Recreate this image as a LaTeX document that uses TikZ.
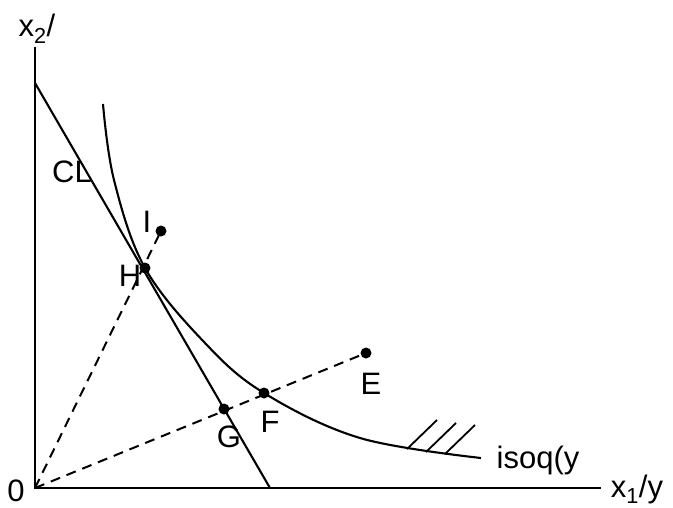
\documentclass[tikz,border=0pt]{standalone}
\usepackage{fontspec}
\setmainfont{Liberation Sans}
\usetikzlibrary{arrows.meta}

\begin{document}
\begin{tikzpicture}[x=1pt,y=-1pt,
  every node/.style={font=\fontsize{31}{36}\selectfont,inner sep=0pt},
  line width=2.1pt,
  pt/.style={fill=black,circle,inner sep=0pt,minimum size=11pt},
  ray/.style={dash pattern=on 10pt off 7pt,line width=2pt}]
  \useasboundingbox (0,0) rectangle (673,507);
  % axes
  \coordinate (O) at (35,488);
  \coordinate (ytop) at (35,47);
  \coordinate (xend) at (601,488);
  \draw (ytop) -- (O) -- (xend);
  \node (x2lab) at (37,29) {x\textsubscript{2}/};
  \node (x1lab) at (637,489) {x\textsubscript{1}/y};
  \node (olab) at (16,491) {0};
  % cost line
  \coordinate (cltop) at (35,83);
  \coordinate (clbot) at (270,488);
  \draw (cltop) -- (clbot);
  \node (cllab) at (72,172) {CL};
  % isoquant
  \draw plot[smooth,tension=0.6] coordinates {(103,104) (114,180)
    (145,268) (205,343) (264,393) (360,438) (481,458)};
  \node (isolab) at (538,460) {isoq(y};
  % hatching
  \foreach \a/\b in {407/449,426/452,445/454}
    \draw[line width=1.8pt] (\a,\b) -- ++(30,-29);
  % points
  \node[pt] (I) at (161,231) {};
  \node[pt] (H) at (145,268) {};
  \node[pt] (E) at (366,353) {};
  \node[pt] (F) at (264,393) {};
  \node[pt] (G) at (224,409) {};
  \draw[ray] (O) -- (I.center);
  \draw[ray] (O) -- (E.center);
  \node (Ilab) at (147,222) {I};
  \node (Hlab) at (130,276) {H};
  \node (Elab) at (371,384) {E};
  \node (Flab) at (270,422) {F};
  \node (Glab) at (229,437) {G};
\end{tikzpicture}
\end{document}
